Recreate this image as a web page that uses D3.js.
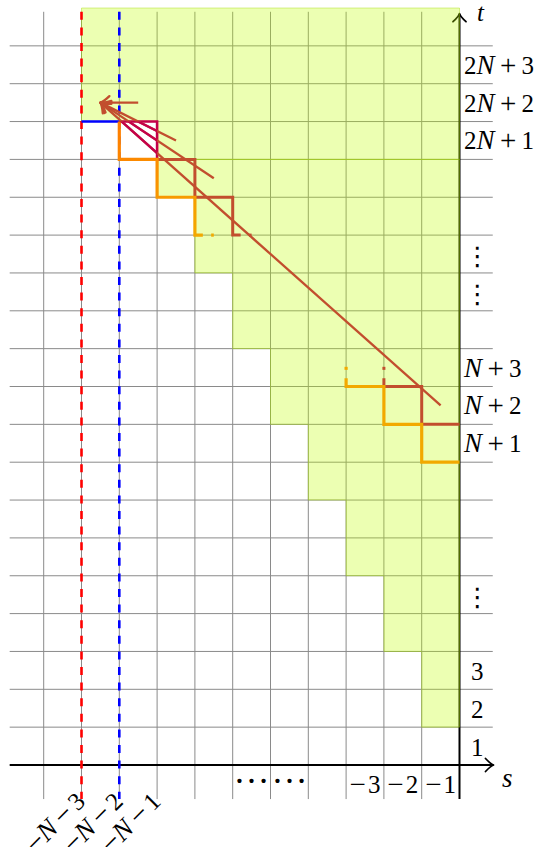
<!DOCTYPE html>
<html><head><meta charset="utf-8">
<script src="https://cdn.jsdelivr.net/npm/d3@7"></script>
<style>body{margin:0;background:#fff}svg{display:block}</style>
</head><body>
<script>
// ---------- data ----------
const sGrid = [-11,-10,-9,-8,-7,-6,-5,-4,-3,-2,-1];
const tGrid = [1,2,3,4,5,6,7,8,9,10,11,12,13,14,15,16,17,18,19];

// green (shaded) region, two pieces
const greenUpper = [[-10,20],[0,20],[0,16],[-8,16],[-8,17],[-10,17]];
const greenLower = [[-8,16],[0,16],[0,1],[-1,1],[-1,3],[-2,3],[-2,5],[-3,5],[-3,7],[-4,7],[-4,9],[-5,9],[-5,11],[-6,11],[-6,13],[-7,13],[-7,15],[-8,15]];

// dashed verticals
const redDashS = -10;
const blueDashS = -9;
const blueSeg = [[-10,17],[-9,17]];

// staircases
const orangeTop = [[-9,17],[-9,16],[-8,16],[-8,15],[-7,15],[-7,14],[-6.79,14]];
const orangeTopDot = [[-6.57,14],[-6.5,14]];
const purpleStep = [[-9,17],[-8,17],[-8,16]];
const brownTop = [[-8,16],[-7,16],[-7,15],[-6,15],[-6,14],[-5.79,14]];
const brownTopDot = [[-5.57,14],[-5.5,14]];
const orangeLow = [[-3,10.22],[-3,10],[-2,10],[-2,9],[-1,9],[-1,8],[0,8]];
const orangeLowDot = [[-3,10.52],[-3,10.44]];
const brownLow = [[-2,10.22],[-2,10],[-1,10],[-1,9],[0,9]];
const brownLowDot = [[-2,10.52],[-2,10.44]];

// arrows converging on one tip
const arrowTip = [-9.5,17.5];
const arrowTails = [[-0.5,9.5],[-6.5,15.5],[-7.5,16.5],[-8.5,17.5]];
const purpleCell = [[-9,16],[-8,17]];

// labels
const rightLabels = [
  {t:18.5, pre:"2", it:"N", post:"3"},
  {t:17.5, pre:"2", it:"N", post:"2"},
  {t:16.5, pre:"2", it:"N", post:"1"},
  {t:10.5, pre:"", it:"N", post:"3"},
  {t:9.5, pre:"", it:"N", post:"2"},
  {t:8.5, pre:"", it:"N", post:"1"}
];
const rightNums = [{t:2.5, txt:"3"},{t:1.5, txt:"2"},{t:0.5, txt:"1"}];
const rightVdots = [13.5, 12.5, 4.5];
const bottomNums = [{s:-2.5, txt:"3"},{s:-1.5, txt:"2"},{s:-0.5, txt:"1"}];
const bottomCdots = [-5.5, -4.5];
const bottomRot = [{s:-10.5, txt:"3"},{s:-9.5, txt:"2"},{s:-8.5, txt:"1"}];

// ---------- drawing ----------
const W = 536, H = 847;
const x = d3.scaleLinear().domain([-12, 1]).range([5.9, 497.3]);
const y = d3.scaleLinear().domain([0, 20]).range([765, 8]);
const line = d3.line().x(d => x(d[0])).y(d => y(d[1]));

const svg = d3.select("body").append("svg").attr("width", W).attr("height", H);
const defs = svg.append("defs");
const g1 = defs.append("linearGradient").attr("id","og").attr("gradientUnits","userSpaceOnUse")
  .attr("x1", x(-9)).attr("y1", y(17)).attr("x2", x(-6.5)).attr("y2", y(14));
g1.append("stop").attr("offset","0").attr("stop-color","#ff7d00");
g1.append("stop").attr("offset","1").attr("stop-color","#f2ab00");
defs.append("clipPath").attr("id","cellclip").append("rect")
  .attr("x", x(purpleCell[0][0])).attr("y", y(purpleCell[1][1]))
  .attr("width", x(purpleCell[1][0]) - x(purpleCell[0][0]))
  .attr("height", y(purpleCell[0][1]) - y(purpleCell[1][1]));

// grid
const grid = svg.append("g").attr("stroke", "#8a8a8a").attr("stroke-width", 1);
grid.selectAll(".v").data(sGrid).join("line")
  .attr("x1", d => x(d)).attr("x2", d => x(d)).attr("y1", y(-0.9)).attr("y2", y(19.9));
grid.selectAll(".h").data(tGrid).join("line")
  .attr("y1", d => y(d)).attr("y2", d => y(d)).attr("x1", x(-11.9)).attr("x2", x(0.88));

// axes
function arrowHead(g, tx, ty, ux, uy, L, Wd, color, sw) {
  const nx = -uy, ny = ux;
  const bx = tx - L*ux, by = ty - L*uy;
  const p = `M${bx + Wd*nx},${by + Wd*ny} Q${tx - 0.35*L*ux + 0.15*Wd*nx},${ty - 0.35*L*uy + 0.15*Wd*ny} ${tx},${ty} Q${tx - 0.35*L*ux - 0.15*Wd*nx},${ty - 0.35*L*uy - 0.15*Wd*ny} ${bx - Wd*nx},${by - Wd*ny}`;
  g.append("path").attr("d", p).attr("fill","none").attr("stroke", color)
    .attr("stroke-width", sw).attr("stroke-linecap","round").attr("stroke-linejoin","round");
}
const ax = svg.append("g");
ax.append("line").attr("x1", x(-11.9)).attr("x2", x(0.9)).attr("y1", y(0)).attr("y2", y(0))
  .attr("stroke","#000").attr("stroke-width",2);
ax.append("line").attr("x1", x(0)).attr("x2", x(0)).attr("y1", y(-0.9)).attr("y2", y(19.85))
  .attr("stroke","#000").attr("stroke-width",2);
arrowHead(ax, x(0.9), y(0), 1, 0, 8, 6.5, "#000", 1.8);
arrowHead(ax, x(0), y(19.85), 0, -1, 8, 6.5, "#000", 1.8);

// green region
[greenUpper, greenLower].forEach(poly => {
  svg.append("path").attr("d", line(poly) + "Z")
    .attr("fill", "#bfff00").attr("fill-opacity", 0.3)
    .attr("stroke", "#9fd600").attr("stroke-opacity", 0.4).attr("stroke-width", 1);
});

// dashed verticals
svg.append("line").attr("x1", x(redDashS)).attr("x2", x(redDashS)).attr("y1", y(19.9)).attr("y2", y(-0.9))
  .attr("stroke","#ff0000").attr("stroke-width",2.6).attr("stroke-dasharray","8,7.6");
svg.append("line").attr("x1", x(blueDashS)).attr("x2", x(blueDashS)).attr("y1", y(19.9)).attr("y2", y(-0.9))
  .attr("stroke","#0000ff").attr("stroke-width",2.6).attr("stroke-dasharray","8,7.6");
svg.append("path").attr("d", line(blueSeg)).attr("fill","none").attr("stroke","#0000ff").attr("stroke-width",2.4);

// staircases
const brown = "#c24e2e", purple = "#c4004a";
function stair(data, color, w) {
  svg.append("path").attr("d", line(data)).attr("fill","none").attr("stroke", color)
    .attr("stroke-width", w).attr("stroke-linejoin","miter").attr("stroke-linecap","butt");
}
stair(brownTop, brown, 3);
stair(brownTopDot, brown, 3);
stair(purpleStep, purple, 2.6);
stair(orangeTop, "url(#og)", 3.2);
stair(orangeTopDot, "#f2ab00", 3.2);
stair(brownLow, brown, 3);
stair(brownLowDot, brown, 3);
stair(orangeLow, "#f2a900", 3.2);
stair(orangeLowDot, "#f2a900", 3.2);

// arrows
const ag = svg.append("g");
arrowTails.forEach(tl => {
  ag.append("path").attr("d", line([tl, arrowTip])).attr("fill","none")
    .attr("stroke", brown).attr("stroke-width", 2.3);
});
const cg = svg.append("g").attr("clip-path","url(#cellclip)");
arrowTails.forEach(tl => {
  cg.append("path").attr("d", line([tl, arrowTip])).attr("fill","none")
    .attr("stroke", purple).attr("stroke-width", 2.3);
});
arrowTails.forEach(tl => {
  const dx = x(arrowTip[0]) - x(tl[0]), dy = y(arrowTip[1]) - y(tl[1]);
  const len = Math.hypot(dx, dy);
  arrowHead(ag, x(arrowTip[0]), y(arrowTip[1]), dx/len, dy/len, 9, 6.5, brown, 2.3);
});

// labels
const serif = "'Liberation Serif', 'Times New Roman', serif";
const lab = svg.append("g").attr("font-family", serif).attr("fill", "#000");
const FS = 25, OPS = 29;
rightLabels.forEach(d => {
  const tx = lab.append("text").attr("x", 464).attr("y", y(d.t) + 9).attr("font-size", FS);
  if (d.pre) tx.append("tspan").text(d.pre);
  tx.append("tspan").attr("font-style","italic").attr("font-size", 27).text(d.it);
  tx.append("tspan").attr("font-size", OPS).attr("dx", 5.5).attr("dy", 1).text("+");
  tx.append("tspan").attr("dx", 5).attr("dy", -1).text(d.post);
});
rightNums.forEach(d => {
  lab.append("text").attr("x", 471).attr("y", y(d.t) + 10).attr("font-size", FS).text(d.txt);
});
rightVdots.forEach(t => {
  lab.append("text").attr("x", x(0) + 18).attr("y", y(t) + 11).attr("font-size", 26)
    .attr("font-family","'DejaVu Sans', sans-serif").attr("text-anchor","middle").text("\u22EE");
});
bottomNums.forEach(d => {
  const tx = lab.append("text").attr("x", x(d.s)).attr("y", 793).attr("font-size", FS).attr("text-anchor","middle");
  tx.append("tspan").attr("font-size", OPS).attr("dy", 1).text("\u2212");
  tx.append("tspan").attr("dy", -1).attr("dx", 2).text(d.txt);
});
bottomCdots.forEach(s => {
  lab.append("text").attr("x", x(s)).attr("y", 783).attr("font-size", 36)
    .attr("text-anchor","middle").text("\u2026");
});
bottomRot.forEach(d => {
  const tx = lab.append("text").attr("font-size", FS).attr("text-anchor","end")
    .attr("transform", `translate(${x(d.s) + 24},${803}) rotate(-45)`);
  tx.append("tspan").attr("font-size", OPS).attr("dy", 1).text("\u2212");
  tx.append("tspan").attr("dy", -1).attr("font-style","italic").attr("font-size", 27).text("N");
  tx.append("tspan").attr("dx", 5).attr("dy", 1).attr("font-size", OPS).text("\u2212");
  tx.append("tspan").attr("dx", 4).attr("dy", -1).text(d.txt);
});
lab.append("text").attr("x", 502).attr("y", 787).attr("font-size", 27).attr("font-style","italic").text("s");
lab.append("text").attr("x", 477).attr("y", 21).attr("font-size", 25).attr("font-style","italic").text("t");
</script>
</body></html>
